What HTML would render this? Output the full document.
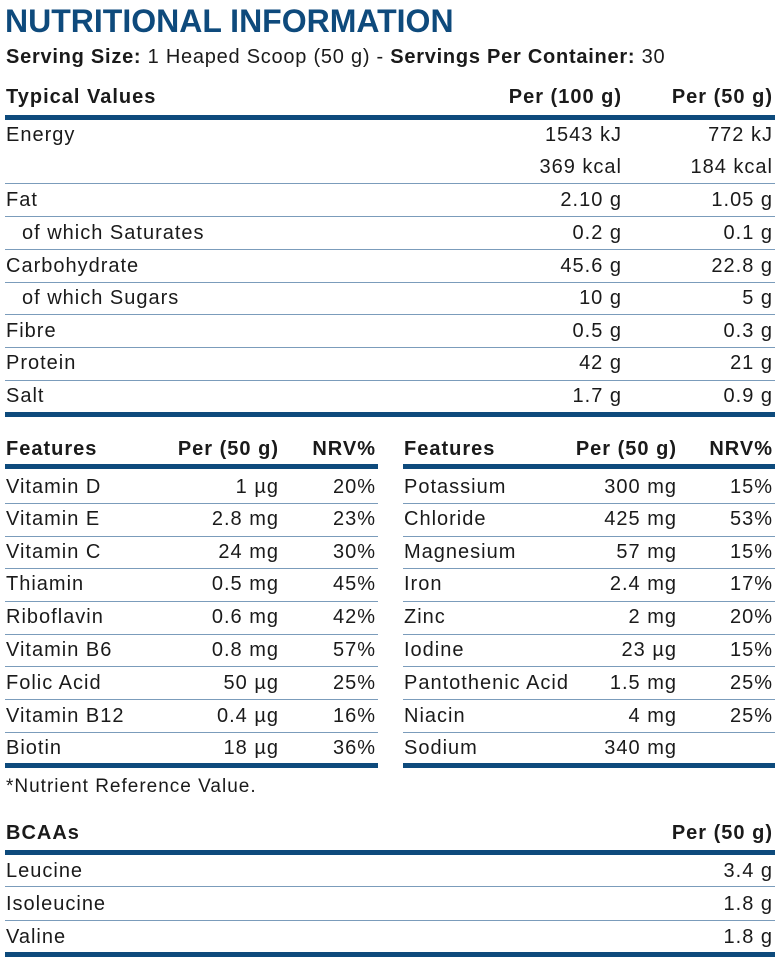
<!DOCTYPE html>
<html><head><meta charset="utf-8"><style>
body{margin:0;width:783px;height:965px;background:#fff;position:relative;overflow:hidden;font-family:"Liberation Sans",sans-serif;color:#1a1a1a}
.t{position:absolute;font-size:20px;line-height:22px;white-space:nowrap;letter-spacing:1px}
.b{font-weight:bold}
.bar{position:absolute;height:5px;background:#0e4a7c}
.ln{position:absolute;height:1px;background:#7b9cbb}
</style></head><body>
<div class="t b" style="left:5px;top:3px;font-size:32px;line-height:36px;color:#0e4a7c;letter-spacing:0">NUTRITIONAL INFORMATION</div>
<div class="t" style="left:6px;top:46px;letter-spacing:0.75px"><b>Serving Size:</b> 1 Heaped Scoop (50 g) - <b>Servings Per Container:</b> 30</div>

<div class="t b" style="left:6px;top:86px">Typical Values</div>
<div class="t b" style="right:161px;top:86px">Per (100 g)</div>
<div class="t b" style="right:10px;top:86px">Per (50 g)</div>
<div class="bar" style="left:5px;width:770px;top:115px"></div>

<div class="t" style="left:6px;top:124px">Energy</div>
<div class="t" style="right:161px;top:124px">1543 kJ</div>
<div class="t" style="right:10px;top:124px">772 kJ</div>
<div class="t" style="right:161px;top:156px">369 kcal</div>
<div class="t" style="right:10px;top:156px">184 kcal</div>
<div class="ln" style="left:5px;width:770px;top:183px"></div>

<div class="t" style="left:6px;top:189px">Fat</div><div class="t" style="right:161px;top:189px">2.10 g</div><div class="t" style="right:10px;top:189px">1.05 g</div>
<div class="ln" style="left:5px;width:770px;top:216px"></div>
<div class="t" style="left:22px;top:222px">of which Saturates</div><div class="t" style="right:161px;top:222px">0.2 g</div><div class="t" style="right:10px;top:222px">0.1 g</div>
<div class="ln" style="left:5px;width:770px;top:249px"></div>
<div class="t" style="left:6px;top:255px">Carbohydrate</div><div class="t" style="right:161px;top:255px">45.6 g</div><div class="t" style="right:10px;top:255px">22.8 g</div>
<div class="ln" style="left:5px;width:770px;top:282px"></div>
<div class="t" style="left:22px;top:287px">of which Sugars</div><div class="t" style="right:161px;top:287px">10 g</div><div class="t" style="right:10px;top:287px">5 g</div>
<div class="ln" style="left:5px;width:770px;top:314px"></div>
<div class="t" style="left:6px;top:320px">Fibre</div><div class="t" style="right:161px;top:320px">0.5 g</div><div class="t" style="right:10px;top:320px">0.3 g</div>
<div class="ln" style="left:5px;width:770px;top:347px"></div>
<div class="t" style="left:6px;top:352px">Protein</div><div class="t" style="right:161px;top:352px">42 g</div><div class="t" style="right:10px;top:352px">21 g</div>
<div class="ln" style="left:5px;width:770px;top:380px"></div>
<div class="t" style="left:6px;top:385px">Salt</div><div class="t" style="right:161px;top:385px">1.7 g</div><div class="t" style="right:10px;top:385px">0.9 g</div>
<div class="bar" style="left:5px;width:770px;top:412px"></div>

<div class="t b" style="left:6px;top:438px">Features</div>
<div class="t b" style="right:504px;top:438px">Per (50 g)</div>
<div class="t b" style="right:407px;top:438px">NRV%</div>
<div class="bar" style="left:5px;width:373px;top:464px"></div>
<div class="t b" style="left:404px;top:438px">Features</div>
<div class="t b" style="right:106px;top:438px">Per (50 g)</div>
<div class="t b" style="right:10px;top:438px">NRV%</div>
<div class="bar" style="left:403px;width:372px;top:464px"></div>

<div class="t" style="left:6px;top:476px">Vitamin D</div><div class="t" style="right:504px;top:476px">1 µg</div><div class="t" style="right:407px;top:476px">20%</div>
<div class="t" style="left:6px;top:508px">Vitamin E</div><div class="t" style="right:504px;top:508px">2.8 mg</div><div class="t" style="right:407px;top:508px">23%</div>
<div class="t" style="left:6px;top:541px">Vitamin C</div><div class="t" style="right:504px;top:541px">24 mg</div><div class="t" style="right:407px;top:541px">30%</div>
<div class="t" style="left:6px;top:573px">Thiamin</div><div class="t" style="right:504px;top:573px">0.5 mg</div><div class="t" style="right:407px;top:573px">45%</div>
<div class="t" style="left:6px;top:606px">Riboflavin</div><div class="t" style="right:504px;top:606px">0.6 mg</div><div class="t" style="right:407px;top:606px">42%</div>
<div class="t" style="left:6px;top:639px">Vitamin B6</div><div class="t" style="right:504px;top:639px">0.8 mg</div><div class="t" style="right:407px;top:639px">57%</div>
<div class="t" style="left:6px;top:672px">Folic Acid</div><div class="t" style="right:504px;top:672px">50 µg</div><div class="t" style="right:407px;top:672px">25%</div>
<div class="t" style="left:6px;top:705px">Vitamin B12</div><div class="t" style="right:504px;top:705px">0.4 µg</div><div class="t" style="right:407px;top:705px">16%</div>
<div class="t" style="left:6px;top:737px">Biotin</div><div class="t" style="right:504px;top:737px">18 µg</div><div class="t" style="right:407px;top:737px">36%</div>

<div class="t" style="left:404px;top:476px">Potassium</div><div class="t" style="right:106px;top:476px">300 mg</div><div class="t" style="right:10px;top:476px">15%</div>
<div class="t" style="left:404px;top:508px">Chloride</div><div class="t" style="right:106px;top:508px">425 mg</div><div class="t" style="right:10px;top:508px">53%</div>
<div class="t" style="left:404px;top:541px">Magnesium</div><div class="t" style="right:106px;top:541px">57 mg</div><div class="t" style="right:10px;top:541px">15%</div>
<div class="t" style="left:404px;top:573px">Iron</div><div class="t" style="right:106px;top:573px">2.4 mg</div><div class="t" style="right:10px;top:573px">17%</div>
<div class="t" style="left:404px;top:606px">Zinc</div><div class="t" style="right:106px;top:606px">2 mg</div><div class="t" style="right:10px;top:606px">20%</div>
<div class="t" style="left:404px;top:639px">Iodine</div><div class="t" style="right:106px;top:639px">23 µg</div><div class="t" style="right:10px;top:639px">15%</div>
<div class="t" style="left:404px;top:672px">Pantothenic Acid</div><div class="t" style="right:106px;top:672px">1.5 mg</div><div class="t" style="right:10px;top:672px">25%</div>
<div class="t" style="left:404px;top:705px">Niacin</div><div class="t" style="right:106px;top:705px">4 mg</div><div class="t" style="right:10px;top:705px">25%</div>
<div class="t" style="left:404px;top:737px">Sodium</div><div class="t" style="right:106px;top:737px">340 mg</div>

<div class="ln" style="left:5px;width:373px;top:503px"></div><div class="ln" style="left:403px;width:372px;top:503px"></div>
<div class="ln" style="left:5px;width:373px;top:536px"></div><div class="ln" style="left:403px;width:372px;top:536px"></div>
<div class="ln" style="left:5px;width:373px;top:568px"></div><div class="ln" style="left:403px;width:372px;top:568px"></div>
<div class="ln" style="left:5px;width:373px;top:601px"></div><div class="ln" style="left:403px;width:372px;top:601px"></div>
<div class="ln" style="left:5px;width:373px;top:634px"></div><div class="ln" style="left:403px;width:372px;top:634px"></div>
<div class="ln" style="left:5px;width:373px;top:666px"></div><div class="ln" style="left:403px;width:372px;top:666px"></div>
<div class="ln" style="left:5px;width:373px;top:699px"></div><div class="ln" style="left:403px;width:372px;top:699px"></div>
<div class="ln" style="left:5px;width:373px;top:732px"></div><div class="ln" style="left:403px;width:372px;top:732px"></div>
<div class="bar" style="left:5px;width:373px;top:763px"></div>
<div class="bar" style="left:403px;width:372px;top:763px"></div>

<div class="t" style="left:6px;top:776px;font-size:19px">*Nutrient Reference Value.</div>

<div class="t b" style="left:6px;top:822px">BCAAs</div>
<div class="t b" style="right:10px;top:822px">Per (50 g)</div>
<div class="bar" style="left:5px;width:770px;top:850px"></div>
<div class="t" style="left:6px;top:860px">Leucine</div><div class="t" style="right:10px;top:860px">3.4 g</div>
<div class="ln" style="left:5px;width:770px;top:886px"></div>
<div class="t" style="left:6px;top:893px">Isoleucine</div><div class="t" style="right:10px;top:893px">1.8 g</div>
<div class="ln" style="left:5px;width:770px;top:920px"></div>
<div class="t" style="left:6px;top:926px">Valine</div><div class="t" style="right:10px;top:926px">1.8 g</div>
<div class="bar" style="left:5px;width:770px;top:952px"></div>
</body></html>
